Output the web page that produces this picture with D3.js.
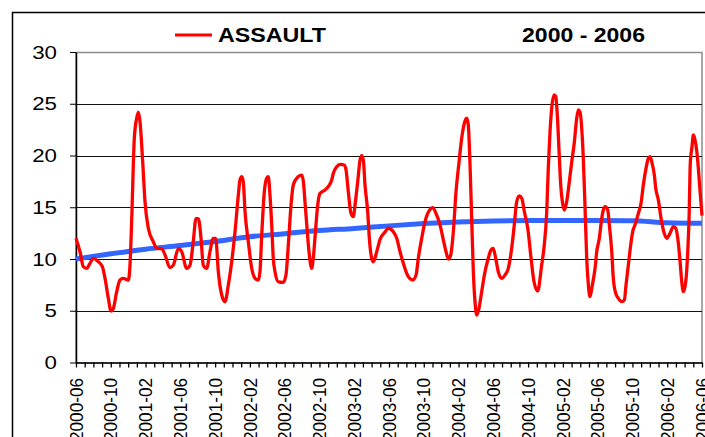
<!DOCTYPE html>
<html>
<head>
<meta charset="utf-8">
<script src="https://cdn.jsdelivr.net/npm/d3@7"></script>
<style>
  body { margin: 0; background: #fff; }
  svg { display: block; }
</style>
</head>
<body>
<svg id="chart" width="705" height="437"></svg>
<script>
// ASSAULT 2000 - 2006
// months counted from 2000-06 (0) to 2006-06 (72)
var tickLabels = ["2000-06", "2000-10", "2001-02", "2001-06", "2001-10", "2002-02",
  "2002-06", "2002-10", "2003-02", "2003-06", "2003-10", "2004-02", "2004-06",
  "2004-10", "2005-02", "2005-06", "2005-10", "2006-02", "2006-06"];
var yTicks = [0, 5, 10, 15, 20, 25, 30];

// [month, value]
var assault = [
  [0, 12.0], [0.46, 10.7], [0.84, 9.26], [1.23, 9.1], [1.61, 9.58], [1.99, 10.07],
  [2.56, 9.74], [3.03, 9.26], [3.34, 8.13], [3.72, 6.2], [4.03, 4.97], [4.29, 5.2],
  [4.68, 6.84], [5.06, 7.97], [5.44, 8.13], [6.02, 7.97], [6.21, 9.4], [6.41, 13.9],
  [6.71, 21.7], [6.98, 23.6], [7.17, 24.2], [7.36, 23.3], [7.67, 19.4], [7.94, 15.5],
  [8.32, 12.97], [8.89, 11.67], [9.28, 11.03], [9.86, 11.0], [10.24, 10.4], [10.81, 9.16],
  [11.19, 9.4], [11.77, 11.0], [12.16, 10.7], [12.73, 9.1], [13.11, 9.4], [13.49, 11.7],
  [13.8, 13.9], [14.07, 13.9], [14.38, 12.0], [14.64, 9.4], [15.03, 9.1], [15.41, 10.7],
  [15.79, 12.0], [16.07, 12.0], [16.37, 8.77], [16.76, 6.52], [17.14, 5.87], [17.52, 7.49],
  [17.91, 9.74], [18.29, 12.64], [18.67, 16.18], [18.86, 17.63], [19.06, 17.95], [19.24, 17.47],
  [19.44, 14.57], [19.82, 11.67], [20.21, 9.1], [20.59, 8.13], [20.97, 7.97], [21.16, 8.77],
  [21.36, 12.3], [21.66, 16.5], [21.93, 17.8], [22.12, 17.95], [22.31, 16.2], [22.51, 13.3],
  [22.69, 10.07], [22.89, 8.77], [23.27, 7.8], [23.84, 7.75], [24.15, 8.45], [24.42, 11.35],
  [24.73, 15.2], [24.99, 17.15], [25.39, 17.8], [25.96, 18.1], [26.15, 17.5], [26.34, 15.5],
  [26.54, 13.3], [26.8, 10.7], [27.11, 9.1], [27.29, 10.07], [27.57, 12.97], [27.8, 15.2],
  [28.07, 16.35], [28.64, 16.67], [29.02, 17.0], [29.41, 17.63], [29.6, 18.28], [29.99, 18.92],
  [30.37, 19.15], [30.86, 19.08], [31.06, 18.6], [31.32, 16.5], [31.63, 14.4], [31.9, 14.1],
  [32.09, 15.2], [32.4, 17.47], [32.67, 19.57], [32.86, 19.98], [33.05, 19.57], [33.24, 17.15],
  [33.55, 14.57], [33.74, 12.0], [34.01, 10.07], [34.2, 9.74], [34.59, 10.7], [34.97, 11.9],
  [35.54, 12.6], [35.92, 12.97], [36.5, 12.64], [36.89, 12.0], [37.27, 10.7], [37.65, 9.58],
  [38.22, 8.29], [38.73, 7.97], [39.11, 8.45], [39.37, 10.07], [39.76, 12.0], [40.14, 13.6],
  [40.64, 14.7], [41.03, 14.96], [41.41, 14.4], [41.87, 13.3], [42.25, 11.84], [42.56, 10.7],
  [42.83, 10.0], [43.1, 10.39], [43.4, 12.64], [43.71, 16.5], [44.06, 19.4], [44.36, 21.66],
  [44.66, 23.1], [44.94, 23.6], [45.12, 22.95], [45.32, 19.08], [45.51, 13.9], [45.7, 8.77],
  [45.89, 5.88], [46.09, 4.59], [46.35, 5.23], [46.66, 6.84], [47.04, 8.77], [47.42, 10.07],
  [47.73, 10.87], [47.99, 11.03], [48.27, 10.07], [48.57, 8.77], [48.96, 8.13], [49.34, 8.45],
  [49.72, 9.1], [50.11, 11.03], [50.41, 13.3], [50.69, 15.54], [50.99, 16.09], [51.27, 15.86],
  [51.57, 14.57], [51.96, 12.97], [52.34, 10.07], [52.68, 7.8], [53.1, 6.9], [53.56, 9.42],
  [53.86, 11.35], [54.14, 14.57], [54.32, 18.76], [54.52, 22.3], [54.71, 24.56], [54.98, 25.85],
  [55.18, 25.7], [55.36, 23.9], [55.56, 20.4], [55.75, 17.15], [55.94, 15.54], [56.17, 14.73],
  [56.44, 15.54], [56.74, 17.47], [57.02, 19.4], [57.32, 21.3], [57.59, 23.6], [57.78, 24.4],
  [57.97, 24.2], [58.17, 22.6], [58.35, 19.7], [58.55, 14.9], [58.74, 10.07], [58.93, 7.49],
  [59.12, 6.36], [59.39, 7.49], [59.7, 9.1], [59.89, 10.7], [60.19, 12.0], [60.47, 13.93],
  [60.65, 14.73], [60.85, 15.05], [61.16, 14.73], [61.34, 13.3], [61.62, 10.7], [61.8, 8.13],
  [62.08, 6.68], [62.38, 6.2], [62.77, 5.88], [63.07, 6.04], [63.26, 7.49], [63.53, 9.42],
  [63.8, 11.35], [64.03, 12.64], [64.3, 13.3], [64.68, 14.41], [64.99, 15.38], [65.25, 17.15],
  [65.56, 18.76], [65.83, 19.73], [66.02, 19.9], [66.22, 19.4], [66.52, 18.1], [66.68, 16.83],
  [66.98, 15.7], [67.29, 13.93], [67.6, 12.64], [67.95, 12.0], [68.32, 12.48], [68.7, 13.12],
  [68.98, 12.97], [69.21, 12.0], [69.48, 9.74], [69.67, 7.8], [69.86, 6.84], [70.13, 7.8],
  [70.36, 10.7], [70.51, 13.93], [70.66, 19.4], [70.83, 20.7], [71.01, 21.98], [71.2, 21.5],
  [71.4, 20.4], [71.58, 18.76], [71.78, 16.5], [72, 14.2]
];

// blue trend, [month, value]
var trend = [
  [0, 10.0], [4, 10.5], [8, 10.95], [12, 11.3], [16, 11.7], [20, 12.15], [24, 12.45],
  [28, 12.75], [32, 12.95], [36, 13.2], [40, 13.42], [44, 13.58], [48, 13.68], [52, 13.72],
  [56, 13.72], [60, 13.72], [64, 13.7], [68, 13.5], [72, 13.45]
];

var svg = d3.select("#chart");

// plot box (note: "top" is taken by window.top, so use other names)
var plotL = 76, plotR = 702, plotT = 52, plotB = 362.5;

var x = d3.scaleLinear().domain([0, 72]).range([plotL, plotR]);
var y = d3.scaleLinear().domain([0, 30]).range([plotB, plotT]);

// outer chart frame (runs off the page on right and bottom)
svg.append("rect")
  .attr("x", 12.5).attr("y", 12.5)
  .attr("width", 900).attr("height", 600)
  .attr("fill", "none").attr("stroke", "#000").attr("stroke-width", 1.5);

// plot area border
svg.append("rect")
  .attr("x", plotL).attr("y", plotT + 0.5)
  .attr("width", plotR - plotL).attr("height", plotB - plotT)
  .attr("fill", "none").attr("stroke", "#8c8c8c").attr("stroke-width", 1.5);

// grid lines
svg.append("g")
  .selectAll("line")
  .data(yTicks.filter(function(d) { return d > 0 && d < 30; }))
  .join("line")
  .attr("x1", plotL).attr("x2", plotR)
  .attr("y1", function(d) { return Math.round(y(d)) + 0.5; })
  .attr("y2", function(d) { return Math.round(y(d)) + 0.5; })
  .attr("stroke", "#111").attr("stroke-width", 1);

// y axis
var yAxis = svg.append("g")
  .attr("transform", "translate(" + plotL + ",0)")
  .call(d3.axisLeft(y).tickValues(yTicks).tickSize(6).tickPadding(13).tickSizeOuter(0));
yAxis.select(".domain").attr("stroke", "#000").attr("stroke-width", 1.5);
yAxis.selectAll(".tick line").attr("stroke", "#000");
yAxis.selectAll(".tick text")
  .attr("font-family", "Liberation Sans, Arial, sans-serif")
  .attr("font-size", 19)
  .attr("fill", "#000")
  .attr("textLength", function(d) { return String(d).length * 12.4; })
  .attr("lengthAdjust", "spacingAndGlyphs");

// x axis, one tick each month
var xAxis = svg.append("g")
  .attr("transform", "translate(0," + plotB + ")")
  .call(d3.axisBottom(x).tickValues(d3.range(0, 73)).tickSize(5).tickSizeOuter(0).tickFormat(""));
xAxis.select(".domain").attr("stroke", "#000").attr("stroke-width", 1.5);
xAxis.selectAll(".tick line").attr("stroke", "#000").attr("stroke-width", 1.3);

svg.append("g")
  .selectAll("text")
  .data(tickLabels)
  .join("text")
  .attr("transform", function(d, i) { return "translate(" + x(i * 4) + ",378) rotate(-90)"; })
  .attr("text-anchor", "end")
  .attr("dy", "0.35em")
  .attr("font-family", "Liberation Sans, Arial, sans-serif")
  .attr("font-size", 19)
  .attr("fill", "#000")
  .attr("textLength", 63)
  .attr("lengthAdjust", "spacingAndGlyphs")
  .text(function(d) { return d; });

// lines
var line = d3.line()
  .x(function(d) { return x(d[0]); })
  .y(function(d) { return y(d[1]); })
  .curve(d3.curveMonotoneX);

svg.append("path")
  .datum(trend)
  .attr("d", line)
  .attr("fill", "none")
  .attr("stroke", "#3366ff")
  .attr("stroke-width", 5);

svg.append("path")
  .datum(assault)
  .attr("d", line)
  .attr("fill", "none")
  .attr("stroke", "#ff0000")
  .attr("stroke-width", 3.3)
  .attr("stroke-linejoin", "round");

// legend + period
svg.append("line")
  .attr("x1", 175).attr("x2", 212)
  .attr("y1", 35).attr("y2", 35)
  .attr("stroke", "#ff0000").attr("stroke-width", 3);

svg.append("text")
  .attr("x", 218).attr("y", 42)
  .attr("font-family", "Liberation Sans, Arial, sans-serif")
  .attr("font-weight", "bold").attr("font-size", 21)
  .attr("textLength", 108).attr("lengthAdjust", "spacingAndGlyphs")
  .text("ASSAULT");

svg.append("text")
  .attr("x", 522).attr("y", 42)
  .attr("font-family", "Liberation Sans, Arial, sans-serif")
  .attr("font-weight", "bold").attr("font-size", 21)
  .attr("textLength", 123).attr("lengthAdjust", "spacingAndGlyphs")
  .text("2000 - 2006");
</script>
</body>
</html>
